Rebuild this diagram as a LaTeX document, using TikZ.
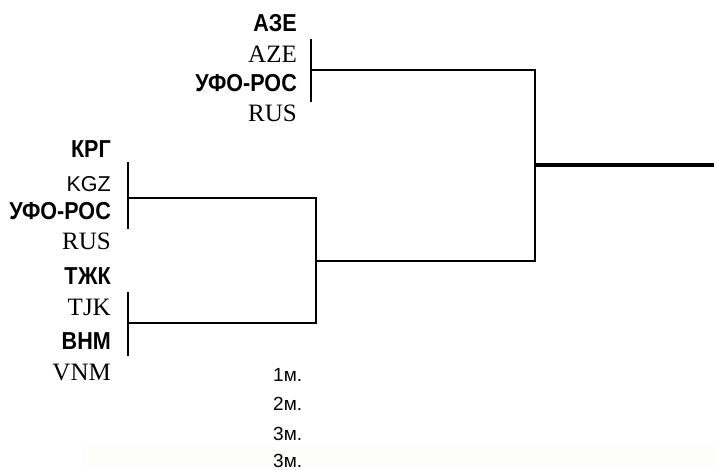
\documentclass[tikz,border=0pt]{standalone}
\usepackage{fontspec}
\setmainfont{Liberation Serif}
\setsansfont{Liberation Sans}
\newfontfamily\teamfont[FakeStretch=0.88]{Liberation Sans Bold}
\definecolor{faint}{HTML}{FDFDF9}
\begin{document}
\begin{tikzpicture}[x=1pt,y=-1pt,
  team/.style={font=\fontsize{24.5}{24.5}\selectfont\teamfont, anchor=base east, inner sep=0pt},
  code/.style={font=\fontsize{25}{25}\selectfont\rmfamily, anchor=base east, inner sep=0pt},
  codesf/.style={font=\fontsize{21.5}{21.5}\selectfont\sffamily, anchor=base east, inner sep=0pt},
  place/.style={font=\fontsize{19}{19}\selectfont\sffamily, anchor=base west, inner sep=0pt},
  bline/.style={line width=1.6pt, line join=miter},
  finalline/.style={line width=4pt}]
\useasboundingbox (0,0) rectangle (714,470);
\fill[faint] (83,445) rectangle (714,470);
% teams
\node[team] (t1) at (297,32) {АЗЕ};
\node[code] (c1) at (297,63) {AZE};
\node[team] (t2) at (297,92) {УФО-РОС};
\node[code] (c2) at (297,122) {RUS};
\node[team] (t3) at (111,158) {КРГ};
\node[codesf] (c3) at (111,192) {KGZ};
\node[team] (t4) at (111,220) {УФО-РОС};
\node[code] (c4) at (111,250) {RUS};
\node[team] (t5) at (111,284) {ТЖК};
\node[code] (c5) at (111,315) {TJK};
\node[team] (t6) at (111,349) {ВНМ};
\node[code] (c6) at (111,380) {VNM};
% places
\node[place] (p1) at (273,381) {1м.};
\node[place] (p2) at (273,410) {2м.};
\node[place] (p3) at (273,440) {3м.};
\node[place] (p4) at (273,467) {3м.};
% bracket coordinates
\coordinate (m1a) at (311,39);
\coordinate (m1b) at (311,102);
\coordinate (m2a) at (128,162);
\coordinate (m2b) at (128,229);
\coordinate (m3a) at (128,292);
\coordinate (m3b) at (128,356);
\coordinate (j1) at (311,70);
\coordinate (j2) at (128,198);
\coordinate (j3) at (128,323);
\coordinate (s1) at (316,198);
\coordinate (s2) at (316,323);
\coordinate (sm) at (316,261);
\coordinate (f1) at (535,70);
\coordinate (f2) at (535,261);
\coordinate (fm) at (535,165);
\coordinate (out) at (714,165);
% brackets
\draw[bline] (m1a) -- (m1b);
\draw[bline] (m2a) -- (m2b);
\draw[bline] (m3a) -- (m3b);
\draw[bline] (j2) -- (s1) -- (s2) -- (j3);
\draw[bline] (j1) -- (f1) -- (f2) -- (sm);
\draw[finalline] (fm) -- (out);
\end{tikzpicture}
\end{document}
